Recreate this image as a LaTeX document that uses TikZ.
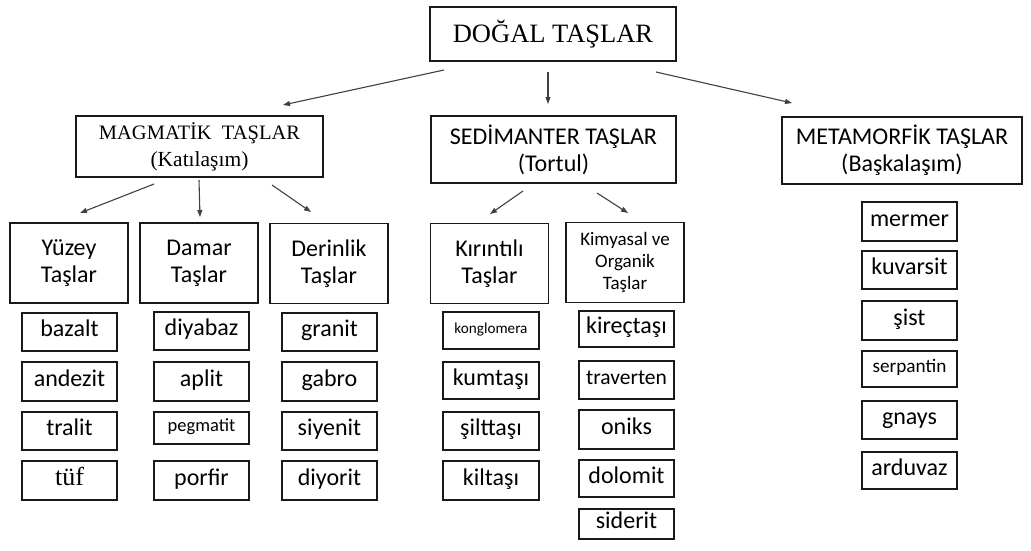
\documentclass[tikz,border=0pt]{standalone}
\usepackage{fontspec}
\setmainfont{Liberation Serif}
\newfontfamily\calfont{Carlito}
\usetikzlibrary{arrows.meta}

\tikzset{
  box/.style={draw=black!90, line width=1.5pt, inner sep=0pt, align=center},
  leaf/.style={box, minimum width=95pt, minimum height=38pt,
    execute at begin node=\strut},
  head/.style={box, minimum width=118pt, minimum height=80pt,
    font=\calfont\fontsize{24}{27}\selectfont},
  arr/.style={-{Triangle[length=7pt,width=5pt]}, line width=1.1pt, draw=black!75},
}

\begin{document}
\begin{tikzpicture}[x=1pt, y=-1pt]
\useasboundingbox (0,0) rectangle (1031,551);
% top level
\node[box, minimum width=246pt, minimum height=54pt,
  font=\fontsize{26.5}{30}\selectfont] (dogal) at (553,34) {DOĞAL TAŞLAR};
\node[box, minimum width=247pt, minimum height=61pt,
  font=\fontsize{20.5}{27}\selectfont] (mag) at (199.5,146.5)
  {MAGMATİK\ \ TAŞLAR\\{\fontsize{21.5}{27}\selectfont(Katılaşım)}};
\node[box, minimum width=245pt, minimum height=67pt,
  font=\calfont\fontsize{24}{27}\selectfont] (sed) at (553.5,149.5)
  {SEDİMANTER TAŞLAR\\(Tortul)};
\node[box, minimum width=240pt, minimum height=67pt,
  font=\calfont\fontsize{24}{27}\selectfont] (met) at (902,150.5)
  {METAMORFİK TAŞLAR\\(Başkalaşım)};
% arrows from the top
\coordinate (d1) at (444,70);  \coordinate (m0) at (283,105);
\coordinate (d2) at (548,72);  \coordinate (s0) at (548,104);
\coordinate (d3) at (656,72);  \coordinate (t0) at (792,103);
\draw[arr] (d1) -- (m0);
\draw[arr] (d2) -- (s0);
\draw[arr] (d3) -- (t0);
% magmatic groups
\node[head] (yuzey) at (69,263) {Yüzey\\Taşlar};
\node[head] (damar) at (199,263) {Damar\\Taşlar};
\node[head] (derin) at (329,263.5) {Derinlik\\Taşlar};
\coordinate (g1) at (154,184); \coordinate (y0) at (80,213);
\coordinate (g2) at (199,180); \coordinate (a0) at (200,217);
\coordinate (g3) at (272,185); \coordinate (r0) at (311,212);
\draw[arr] (g1) -- (y0);
\draw[arr] (g2) -- (a0);
\draw[arr] (g3) -- (r0);
% sedimentary groups
\node[head] (kirin) at (489.5,263.5) {Kırıntılı\\Taşlar};
\node[head, font=\calfont\fontsize{19}{22}\selectfont] (kimya) at (625,262.5)
  {Kimyasal ve\\Organik\\Taşlar};
\coordinate (h1) at (523,191); \coordinate (k0) at (490,214);
\coordinate (h2) at (597,193); \coordinate (o0) at (628,213);
\draw[arr] (h1) -- (k0);
\draw[arr] (h2) -- (o0);
% rock names
\foreach \t/\s/\y/\h [count=\i] in {bazalt/24/332/38, andezit/24/381.5/39,
    tralit/24/431/38, {\rmfamily tüf}/26/480.5/39}
  \node[leaf, minimum height=\h pt, font=\calfont\fontsize{\s}{\s}\selectfont]
    (yz\i) at (69.5,\y) {\t};
\foreach \t/\s/\y/\h [count=\i] in {diyabaz/24/331/38, aplit/24/381.5/39,
    pegmatit/18.5/428/32, porfir/24/480.5/39}
  \node[leaf, minimum height=\h pt, font=\calfont\fontsize{\s}{\s}\selectfont]
    (dm\i) at (201.5,\y) {\t};
\foreach \t/\s/\y/\h [count=\i] in {granit/24/332/38, gabro/24/381.5/39,
    siyenit/24/431/38, diyorit/24/480.5/39}
  \node[leaf, minimum height=\h pt, font=\calfont\fontsize{\s}{\s}\selectfont]
    (dr\i) at (329.5,\y) {\t};
\foreach \t/\s/\y/\h [count=\i] in {konglomera/15.2/330.5/37, kumtaşı/24/380.5/37,
    şilttaşı/24/431/38, kiltaşı/24/480.5/39}
  \node[leaf, minimum width=96pt, minimum height=\h pt,
    font=\calfont\fontsize{\s}{\s}\selectfont] (kr\i) at (491,\y) {\t};
\foreach \t/\s/\y/\h [count=\i] in {kireçtaşı/24/329/36, traverten/21.5/380/38,
    oniks/24/429.5/39, dolomit/24/478.5/37, siderit/24/524/30}
  \node[leaf, minimum height=\h pt, font=\calfont\fontsize{\s}{\s}\selectfont]
    (km\i) at (626.5,\y) {\t};
\foreach \t/\s/\y/\h [count=\i] in {mermer/24/221.5/39, kuvarsit/24/270/38,
    şist/24/320.5/39, serpantin/19.2/369/36, gnays/24/420/38, arduvaz/24/470.5/37}
  \node[leaf, minimum height=\h pt, font=\calfont\fontsize{\s}{\s}\selectfont]
    (mt\i) at (909.5,\y) {\t};
\end{tikzpicture}
\end{document}
